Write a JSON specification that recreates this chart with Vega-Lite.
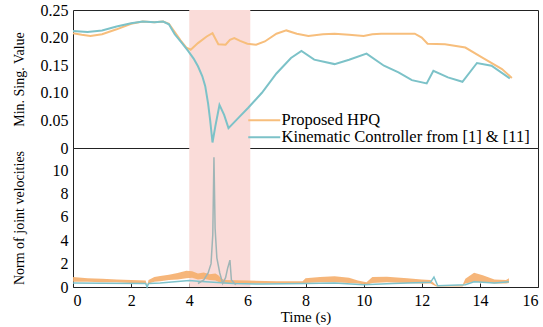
{
  "$schema": "https://vega.github.io/schema/vega-lite/v6.json",
  "padding": {"left": 11, "top": 1, "right": 0, "bottom": 0},
  "background": "white",
  "bounds": "flush",
  "config": {
    "view": {"stroke": "#222", "strokeWidth": 1},
    "font": "Liberation Serif",
    "axis": {
      "grid": false,
      "domain": false,
      "labelFont": "Liberation Serif",
      "labelFontSize": 16,
      "labelColor": "black",
      "labelOverlap": false,
      "titleFont": "Liberation Serif",
      "titleFontSize": 14,
      "titleFontWeight": "normal",
      "titleColor": "black",
      "tickColor": "#222",
      "tickSize": -4,
      "labelPadding": 5
    }
  },
  "datasets": {
    "shade": [{"start": 4, "end": 6.1}],
    "sv": [
      {"t": 0, "series": "Proposed HPQ", "v": 0.208},
      {"t": 0.3, "series": "Proposed HPQ", "v": 0.205},
      {"t": 0.6, "series": "Proposed HPQ", "v": 0.203},
      {"t": 1.0, "series": "Proposed HPQ", "v": 0.206},
      {"t": 1.5, "series": "Proposed HPQ", "v": 0.215},
      {"t": 2.0, "series": "Proposed HPQ", "v": 0.225},
      {"t": 2.4, "series": "Proposed HPQ", "v": 0.229},
      {"t": 2.8, "series": "Proposed HPQ", "v": 0.228},
      {"t": 3.1, "series": "Proposed HPQ", "v": 0.229},
      {"t": 3.3, "series": "Proposed HPQ", "v": 0.225},
      {"t": 3.5, "series": "Proposed HPQ", "v": 0.21},
      {"t": 3.7, "series": "Proposed HPQ", "v": 0.195},
      {"t": 3.9, "series": "Proposed HPQ", "v": 0.182},
      {"t": 4.05, "series": "Proposed HPQ", "v": 0.178},
      {"t": 4.3, "series": "Proposed HPQ", "v": 0.19},
      {"t": 4.6, "series": "Proposed HPQ", "v": 0.202},
      {"t": 4.8, "series": "Proposed HPQ", "v": 0.208},
      {"t": 4.9, "series": "Proposed HPQ", "v": 0.198},
      {"t": 5.0, "series": "Proposed HPQ", "v": 0.188},
      {"t": 5.25, "series": "Proposed HPQ", "v": 0.187},
      {"t": 5.4, "series": "Proposed HPQ", "v": 0.196},
      {"t": 5.55, "series": "Proposed HPQ", "v": 0.199},
      {"t": 5.75, "series": "Proposed HPQ", "v": 0.194},
      {"t": 6.0, "series": "Proposed HPQ", "v": 0.189},
      {"t": 6.3, "series": "Proposed HPQ", "v": 0.187},
      {"t": 6.6, "series": "Proposed HPQ", "v": 0.193},
      {"t": 7.0, "series": "Proposed HPQ", "v": 0.207},
      {"t": 7.34, "series": "Proposed HPQ", "v": 0.213},
      {"t": 7.7, "series": "Proposed HPQ", "v": 0.207},
      {"t": 8.1, "series": "Proposed HPQ", "v": 0.203},
      {"t": 8.6, "series": "Proposed HPQ", "v": 0.206},
      {"t": 9.0, "series": "Proposed HPQ", "v": 0.207},
      {"t": 9.5, "series": "Proposed HPQ", "v": 0.205},
      {"t": 10.0, "series": "Proposed HPQ", "v": 0.203},
      {"t": 10.3, "series": "Proposed HPQ", "v": 0.206},
      {"t": 10.6, "series": "Proposed HPQ", "v": 0.207},
      {"t": 11.2, "series": "Proposed HPQ", "v": 0.207},
      {"t": 11.76, "series": "Proposed HPQ", "v": 0.207},
      {"t": 12.0, "series": "Proposed HPQ", "v": 0.2},
      {"t": 12.2, "series": "Proposed HPQ", "v": 0.189},
      {"t": 12.8, "series": "Proposed HPQ", "v": 0.188},
      {"t": 13.5, "series": "Proposed HPQ", "v": 0.182},
      {"t": 14.07, "series": "Proposed HPQ", "v": 0.164},
      {"t": 14.76, "series": "Proposed HPQ", "v": 0.143},
      {"t": 15.1, "series": "Proposed HPQ", "v": 0.127},
      {"t": 0, "series": "Kinematic Controller from [1] & [11]", "v": 0.212},
      {"t": 0.5, "series": "Kinematic Controller from [1] & [11]", "v": 0.21},
      {"t": 1.0, "series": "Kinematic Controller from [1] & [11]", "v": 0.213},
      {"t": 1.5, "series": "Kinematic Controller from [1] & [11]", "v": 0.22},
      {"t": 2.0, "series": "Kinematic Controller from [1] & [11]", "v": 0.226},
      {"t": 2.4, "series": "Kinematic Controller from [1] & [11]", "v": 0.229},
      {"t": 2.8, "series": "Kinematic Controller from [1] & [11]", "v": 0.228},
      {"t": 3.1, "series": "Kinematic Controller from [1] & [11]", "v": 0.229},
      {"t": 3.3, "series": "Kinematic Controller from [1] & [11]", "v": 0.224},
      {"t": 3.5, "series": "Kinematic Controller from [1] & [11]", "v": 0.206},
      {"t": 3.75, "series": "Kinematic Controller from [1] & [11]", "v": 0.19},
      {"t": 3.96, "series": "Kinematic Controller from [1] & [11]", "v": 0.176},
      {"t": 4.15, "series": "Kinematic Controller from [1] & [11]", "v": 0.162},
      {"t": 4.3, "series": "Kinematic Controller from [1] & [11]", "v": 0.148},
      {"t": 4.45, "series": "Kinematic Controller from [1] & [11]", "v": 0.13},
      {"t": 4.55, "series": "Kinematic Controller from [1] & [11]", "v": 0.112},
      {"t": 4.65, "series": "Kinematic Controller from [1] & [11]", "v": 0.08},
      {"t": 4.72, "series": "Kinematic Controller from [1] & [11]", "v": 0.05},
      {"t": 4.8, "series": "Kinematic Controller from [1] & [11]", "v": 0.01},
      {"t": 4.9, "series": "Kinematic Controller from [1] & [11]", "v": 0.04},
      {"t": 5.04, "series": "Kinematic Controller from [1] & [11]", "v": 0.078},
      {"t": 5.2, "series": "Kinematic Controller from [1] & [11]", "v": 0.06},
      {"t": 5.35, "series": "Kinematic Controller from [1] & [11]", "v": 0.036},
      {"t": 5.7, "series": "Kinematic Controller from [1] & [11]", "v": 0.055},
      {"t": 6.03, "series": "Kinematic Controller from [1] & [11]", "v": 0.073},
      {"t": 6.5, "series": "Kinematic Controller from [1] & [11]", "v": 0.1},
      {"t": 7.0, "series": "Kinematic Controller from [1] & [11]", "v": 0.135},
      {"t": 7.5, "series": "Kinematic Controller from [1] & [11]", "v": 0.163},
      {"t": 7.86, "series": "Kinematic Controller from [1] & [11]", "v": 0.176},
      {"t": 8.3, "series": "Kinematic Controller from [1] & [11]", "v": 0.16},
      {"t": 9.0, "series": "Kinematic Controller from [1] & [11]", "v": 0.152},
      {"t": 9.5, "series": "Kinematic Controller from [1] & [11]", "v": 0.16},
      {"t": 10.1, "series": "Kinematic Controller from [1] & [11]", "v": 0.171},
      {"t": 10.7, "series": "Kinematic Controller from [1] & [11]", "v": 0.149},
      {"t": 11.2, "series": "Kinematic Controller from [1] & [11]", "v": 0.137},
      {"t": 11.66, "series": "Kinematic Controller from [1] & [11]", "v": 0.123},
      {"t": 12.17, "series": "Kinematic Controller from [1] & [11]", "v": 0.117},
      {"t": 12.4, "series": "Kinematic Controller from [1] & [11]", "v": 0.14},
      {"t": 12.9, "series": "Kinematic Controller from [1] & [11]", "v": 0.128},
      {"t": 13.4, "series": "Kinematic Controller from [1] & [11]", "v": 0.12},
      {"t": 13.9, "series": "Kinematic Controller from [1] & [11]", "v": 0.154},
      {"t": 14.4, "series": "Kinematic Controller from [1] & [11]", "v": 0.149},
      {"t": 15.03, "series": "Kinematic Controller from [1] & [11]", "v": 0.126}
    ],
    "band": [
      {"t": 0, "lo": 0.45, "hi": 0.85},
      {"t": 0.5, "lo": 0.45, "hi": 0.75},
      {"t": 1, "lo": 0.4, "hi": 0.7},
      {"t": 1.5, "lo": 0.4, "hi": 0.65},
      {"t": 2, "lo": 0.35, "hi": 0.6},
      {"t": 2.5, "lo": 0.35, "hi": 0.55},
      {"t": 2.55, "lo": 0.0, "hi": 0.1},
      {"t": 2.6, "lo": 0.3, "hi": 0.6},
      {"t": 2.8, "lo": 0.45, "hi": 0.85},
      {"t": 3.0, "lo": 0.5, "hi": 0.95},
      {"t": 3.3, "lo": 0.6, "hi": 1.05},
      {"t": 3.6, "lo": 0.65, "hi": 1.2},
      {"t": 3.9, "lo": 0.75, "hi": 1.4},
      {"t": 4.1, "lo": 0.8, "hi": 1.35},
      {"t": 4.3, "lo": 0.65, "hi": 1.15},
      {"t": 4.5, "lo": 0.7, "hi": 1.25},
      {"t": 4.7, "lo": 0.6, "hi": 1.1},
      {"t": 4.9, "lo": 0.55, "hi": 1.15},
      {"t": 5.0, "lo": 0.45, "hi": 1.0},
      {"t": 5.1, "lo": 0.35, "hi": 0.75},
      {"t": 5.2, "lo": 0.3, "hi": 0.6},
      {"t": 6.0, "lo": 0.3, "hi": 0.55},
      {"t": 7.0, "lo": 0.3, "hi": 0.5},
      {"t": 7.9, "lo": 0.3, "hi": 0.5},
      {"t": 8.0, "lo": 0.35, "hi": 0.75},
      {"t": 8.5, "lo": 0.4, "hi": 0.85},
      {"t": 9.0, "lo": 0.4, "hi": 0.92},
      {"t": 9.5, "lo": 0.35, "hi": 0.8},
      {"t": 9.8, "lo": 0.3, "hi": 0.55},
      {"t": 10.1, "lo": 0.2, "hi": 0.4},
      {"t": 10.3, "lo": 0.35, "hi": 0.85},
      {"t": 10.8, "lo": 0.4, "hi": 0.88},
      {"t": 11.5, "lo": 0.35, "hi": 0.75},
      {"t": 12.0, "lo": 0.3, "hi": 0.65},
      {"t": 12.3, "lo": 0.3, "hi": 0.6},
      {"t": 12.5, "lo": 0.05, "hi": 0.15},
      {"t": 13.4, "lo": 0.05, "hi": 0.15},
      {"t": 13.5, "lo": 0.3, "hi": 0.7},
      {"t": 13.8, "lo": 0.45, "hi": 1.22},
      {"t": 14.1, "lo": 0.4, "hi": 1.0},
      {"t": 14.5, "lo": 0.3, "hi": 0.65},
      {"t": 14.9, "lo": 0.3, "hi": 0.6},
      {"t": 15.0, "lo": 0.35, "hi": 0.75}
    ],
    "kin": [
      {"t": 0, "v": 0.35},
      {"t": 1, "v": 0.33},
      {"t": 2.5, "v": 0.3},
      {"t": 2.55, "v": 0.0},
      {"t": 2.6, "v": 0.3},
      {"t": 3.0, "v": 0.35},
      {"t": 3.5, "v": 0.45},
      {"t": 4.0, "v": 0.55},
      {"t": 4.3, "v": 0.5},
      {"t": 5.5, "v": 0.3},
      {"t": 6.5, "v": 0.25},
      {"t": 8.0, "v": 0.3},
      {"t": 9.0, "v": 0.35},
      {"t": 10.0, "v": 0.2},
      {"t": 11.0, "v": 0.3},
      {"t": 12.3, "v": 0.4},
      {"t": 12.42, "v": 0.85},
      {"t": 12.55, "v": 0.1},
      {"t": 13.5, "v": 0.2},
      {"t": 13.8, "v": 0.45},
      {"t": 14.5, "v": 0.35},
      {"t": 15.0, "v": 0.45}
    ],
    "spike": [
      {"t": 4.3, "v": 0.3},
      {"t": 4.5, "v": 0.6},
      {"t": 4.65, "v": 1.2},
      {"t": 4.75, "v": 2.0},
      {"t": 4.81, "v": 4.5},
      {"t": 4.85, "v": 11.1},
      {"t": 4.89, "v": 5.0},
      {"t": 4.95, "v": 2.5},
      {"t": 5.05, "v": 1.2},
      {"t": 5.15, "v": 0.3},
      {"t": 5.25, "v": 0.8},
      {"t": 5.32, "v": 1.6},
      {"t": 5.4, "v": 2.3},
      {"t": 5.45, "v": 0.6},
      {"t": 5.6, "v": 0.2}
    ]
  },
  "vconcat": [
    {
      "width": 465,
      "height": 138,
      "layer": [
        {
          "data": {"name": "shade"},
          "mark": {"type": "rect", "color": "#FADCD9"},
          "encoding": {
            "x": {"field": "start", "type": "quantitative", "scale": {"domain": [0, 16], "nice": false}, "axis": null},
            "x2": {"field": "end"}
          }
        },
        {
          "data": {"name": "sv"},
          "mark": {"type": "line", "strokeWidth": 2},
          "encoding": {
            "x": {"field": "t", "type": "quantitative", "axis": null},
            "y": {"field": "v", "type": "quantitative", "scale": {"domain": [0, 0.25], "nice": false},
              "axis": {"title": "Min. Sing. Value", "values": [0, 0.05, 0.1, 0.15, 0.2, 0.25], "labelOverlap": false,
                "labelExpr": "datum.value == 0 ? '0' : format(datum.value, '.2f')", "tickSize": 0, "titlePadding": 14}},
            "color": {"field": "series", "type": "nominal",
              "scale": {"domain": ["Proposed HPQ", "Kinematic Controller from [1] & [11]"], "range": ["#F7BE7C", "#7CC2C8"]},
              "legend": {"title": null, "orient": "none", "legendX": 183, "legendY": 102, "symbolType": "M-8,0H8", "symbolSize": 16, "symbolStrokeWidth": 2,
                "labelFont": "Liberation Serif", "labelFontSize": 16.5, "labelColor": "black", "labelLimit": 400, "labelOffset": 9, "rowPadding": -7, "padding": 0}}
          }
        }
      ]
    },
    {
      "width": 465,
      "height": 139,
      "layer": [
        {
          "data": {"name": "shade"},
          "mark": {"type": "rect", "color": "#FADCD9"},
          "encoding": {
            "x": {"field": "start", "type": "quantitative", "scale": {"domain": [0, 16], "nice": false},
              "axis": {"title": "Time (s)", "values": [0,2,4,6,8,10,12,14,16], "titlePadding": 1, "titleFontSize": 15, "labelPadding": 9, "labelOverlap": false}},
            "x2": {"field": "end"}
          }
        },
        {
          "data": {"name": "band"},
          "mark": {"type": "area", "color": "#F5AE6C", "opacity": 0.9},
          "encoding": {
            "x": {"field": "t", "type": "quantitative",
              "axis": {"title": "Time (s)", "values": [0,2,4,6,8,10,12,14,16], "titlePadding": 1, "titleFontSize": 15, "labelPadding": 9, "labelOverlap": false}},
            "y": {"field": "lo", "type": "quantitative", "scale": {"domain": [0, 11.9], "nice": false},
              "axis": {"title": "Norm of joint velocities", "values": [0, 2, 4, 6, 8, 10], "labelOverlap": false, "tickSize": 0, "titlePadding": 26}},
            "y2": {"field": "hi"}
          }
        },
        {
          "data": {"name": "kin"},
          "mark": {"type": "line", "color": "#7FC3CC", "strokeWidth": 1.5},
          "encoding": {
            "x": {"field": "t", "type": "quantitative",
              "axis": {"title": "Time (s)", "values": [0,2,4,6,8,10,12,14,16], "titlePadding": 1, "titleFontSize": 15, "labelPadding": 9, "labelOverlap": false}},
            "y": {"field": "v", "type": "quantitative",
              "axis": {"title": "Norm of joint velocities", "values": [0, 2, 4, 6, 8, 10], "labelOverlap": false, "tickSize": 0, "titlePadding": 26}}
          }
        },
        {
          "data": {"name": "spike"},
          "mark": {"type": "line", "color": "#9FB5B6", "strokeWidth": 1.5},
          "encoding": {
            "x": {"field": "t", "type": "quantitative",
              "axis": {"title": "Time (s)", "values": [0,2,4,6,8,10,12,14,16], "titlePadding": 1, "titleFontSize": 15, "labelPadding": 9, "labelOverlap": false}},
            "y": {"field": "v", "type": "quantitative",
              "axis": {"title": "Norm of joint velocities", "values": [0, 2, 4, 6, 8, 10], "labelOverlap": false, "tickSize": 0, "titlePadding": 26}}
          }
        }
      ]
    }
  ],
  "spacing": 0
}
